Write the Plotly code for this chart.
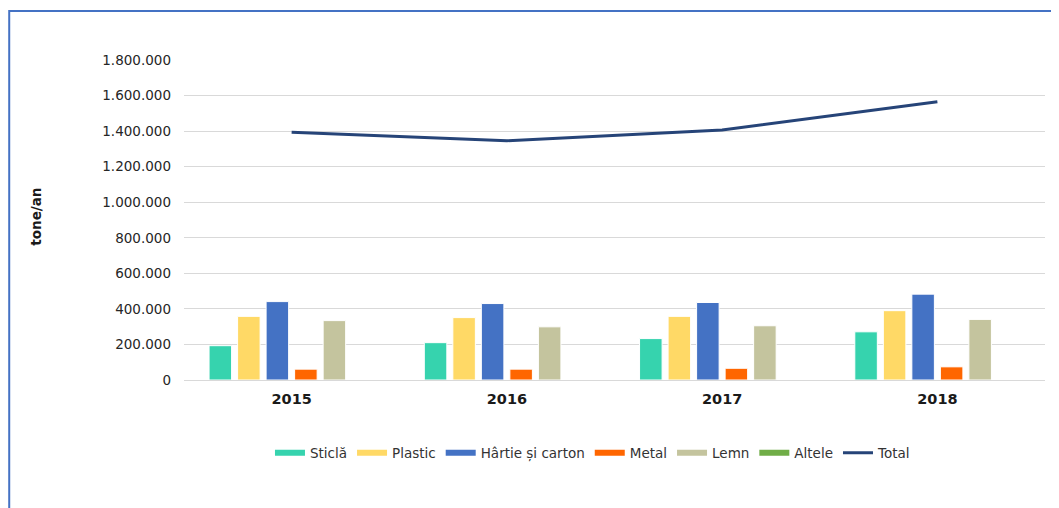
import plotly.graph_objects as go

# date (tone/an)
ani = ["2015", "2016", "2017", "2018"]
sticla = [193000, 210000, 233000, 271000]
plastic = [358000, 351000, 358000, 390000]
hartie = [441000, 430000, 436000, 483000]
metal = [61000, 61000, 66000, 74000]
lemn = [334000, 299000, 305000, 341000]
altele = [0, 0, 0, 0]
total = [1393000, 1346000, 1406000, 1565000]

serii = [
    ("Sticlă", sticla, "#36D3AE"),
    ("Plastic", plastic, "#FFD966"),
    ("Hârtie și carton", hartie, "#4472C4"),
    ("Metal", metal, "#FF6600"),
    ("Lemn", lemn, "#C4C49E"),
    ("Altele", altele, "#70AD47"),
]
culoare_total = "#264478"

fig = go.Figure()

for nume, valori, culoare in serii:
    fig.add_trace(go.Bar(
        x=ani, y=valori, name=nume,
        marker=dict(color=culoare, line=dict(color="white", width=1)),
        showlegend=False,
    ))

fig.add_trace(go.Scatter(
    x=ani, y=total, name="Total", mode="lines",
    line=dict(color=culoare_total, width=3),
    showlegend=False,
))

# intrari de legenda in stil Excel (dreptunghiuri plate)
for nume, valori, culoare in serii:
    fig.add_trace(go.Scatter(
        x=[None], y=[None], name=nume, mode="lines",
        line=dict(color=culoare, width=6),
    ))
fig.add_trace(go.Scatter(
    x=[None], y=[None], name="Total", mode="lines",
    line=dict(color=culoare_total, width=3),
))

# pagina are 8px margine implicita in body -> figura mai mica cu 8px
fig.update_layout(
    width=1051, height=500,
    margin=dict(l=176, r=14, t=52, b=128),
    paper_bgcolor="white", plot_bgcolor="white",
    separators=",.",
    barmode="group", bargap=0.205, bargroupgap=0.21,
    font=dict(family="DejaVu Sans", size=13, color="#262626"),
    legend=dict(
        orientation="h", x=0.475, xanchor="center", y=-0.228, yanchor="middle",
        font=dict(family="DejaVu Sans", size=13.5, color="#333333"),
        itemwidth=30,
    ),
    xaxis=dict(
        type="category", showgrid=False, showline=False, ticks="",
        ticklabelstandoff=8,
        tickfont=dict(family="DejaVu Sans", size=14.5, color="#1a1a1a", weight="bold"),
    ),
    yaxis=dict(
        range=[0, 1800000], dtick=200000, tickformat=",d",
        showgrid=True, gridcolor="#D9D9D9", gridwidth=1,
        zeroline=True, zerolinecolor="#D9D9D9", zerolinewidth=1,
        showline=False, ticks="", ticklabelstandoff=12,
        tickfont=dict(family="DejaVu Sans", size=13.5, color="#262626"),
    ),
    annotations=[dict(
        text="<b>tone/an</b>", textangle=-90, showarrow=False,
        xref="paper", yref="paper", x=-0.172, y=0.51,
        xanchor="center", yanchor="middle",
        font=dict(family="DejaVu Sans", size=13.5, color="#1a1a1a"),
    )],
    shapes=[dict(
        type="rect", xref="paper", yref="paper",
        x0=-0.203, x1=1.2, y0=-0.7, y1=1.153,
        line=dict(color="#4472C4", width=2), fillcolor="rgba(0,0,0,0)",
        layer="below",
    )],
)

fig.write_html("out.html")
